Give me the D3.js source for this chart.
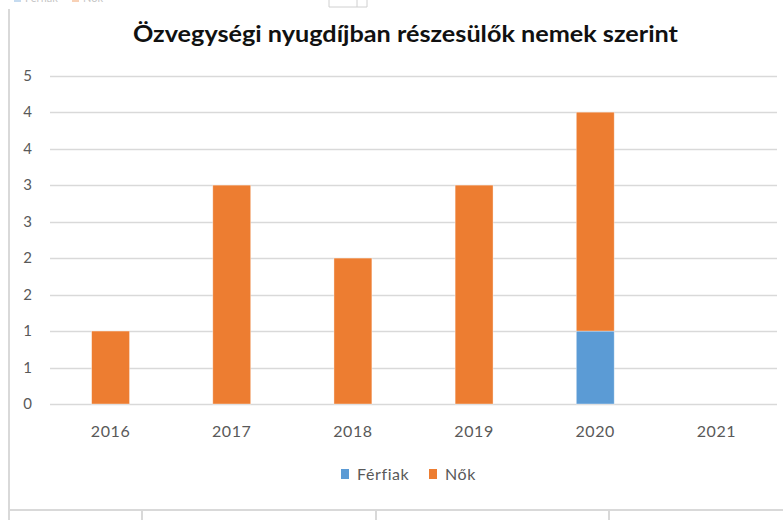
<!DOCTYPE html>
<html><head><meta charset="utf-8">
<script src="https://cdn.jsdelivr.net/npm/d3@7/dist/d3.min.js"></script>
<style>body{margin:0;background:#fff}svg{display:block}</style>
</head><body>
<svg id="c" width="783" height="520"></svg>
<script>
const categories = ["2016","2017","2018","2019","2020","2021"];
const ferfiak = [0,0,0,0,1,0];
const nok = [1,3,2,3,3,0];
const yTicks = [0,0.5,1,1.5,2,2.5,3,3.5,4,4.5];
const seriesNames = ["Férfiak","Nők"];
const colors = ["#5B9BD5","#ED7D31"];
const title = "Özvegységi nyugdíjban részesülők nemek szerint";

const svg = d3.select("#c");
const font = "Lato, 'Open Sans', sans-serif";

// frame lines
const g0 = svg.append("g").attr("stroke","#d9d9d9").attr("stroke-width",2);
g0.append("line").attr("x1",9).attr("x2",9).attr("y1",9).attr("y2",520);
g0.append("line").attr("x1",9).attr("x2",783).attr("y1",510).attr("y2",510);
[142,376,609].forEach(xx=>g0.append("line").attr("x1",xx).attr("x2",xx).attr("y1",510).attr("y2",520));

// faint cut-off legend and icon at top
const topG = svg.append("g").attr("opacity",0.35);
topG.append("rect").attr("x",14).attr("y",-6).attr("width",7).attr("height",8).attr("fill",colors[0]);
topG.append("text").attr("x",25).attr("y",2).attr("font-size",11).attr("fill","#595959").attr("font-family",font).text("Férfiak");
topG.append("rect").attr("x",72).attr("y",-6).attr("width",7).attr("height",8).attr("fill",colors[1]);
topG.append("text").attr("x",83).attr("y",2).attr("font-size",11).attr("fill","#595959").attr("font-family",font).text("Nők");
const ic = svg.append("g").attr("stroke","#d0d0d0").attr("stroke-width",1).attr("fill","none");
ic.append("path").attr("d","M329,0V7H367V0M357,0V7");

const x = d3.scaleBand().domain(categories).range([50,777]).paddingInner(0.687).paddingOuter(0.3435);
const y = d3.scaleLinear().domain([0,4.5]).range([404,75.7]);

// gridlines
svg.append("g").selectAll("line").data(yTicks).join("line")
  .attr("x1",50).attr("x2",777).attr("y1",d=>Math.round(y(d))+0.5).attr("y2",d=>Math.round(y(d))+0.5)
  .attr("stroke","#d9d9d9").attr("stroke-width",1.5);

// y axis labels (Excel-style integer format, half rounds up)
const yAxis = d3.axisLeft(y).tickValues(yTicks).tickSize(0).tickPadding(0)
  .tickFormat(d=>String(Math.round(d)));
const ya = svg.append("g").attr("transform","translate(32,0)").call(yAxis);
ya.select(".domain").remove();
ya.selectAll("text").attr("font-size",15).attr("fill","#595959").attr("font-family",font);

// x axis labels
const xAxis = d3.axisBottom(x).tickSize(0).tickPadding(0);
const xa = svg.append("g").attr("transform","translate(0,426)").call(xAxis);
xa.select(".domain").remove();
xa.selectAll("text").attr("font-size",16).attr("letter-spacing","0.6px").attr("fill","#595959").attr("font-family",font).attr("dy","0.71em");

// stacked bars
const rows = categories.map((c,i)=>({cat:c,"Férfiak":ferfiak[i],"Nők":nok[i]}));
const stack = d3.stack().keys(seriesNames)(rows);
svg.append("g").selectAll("g").data(stack).join("g")
  .attr("fill",(d,i)=>colors[i])
  .selectAll("rect").data(d=>d.filter(p=>p[1]-p[0]>0)).join("rect")
  .attr("x",d=>x(d.data.cat)).attr("width",x.bandwidth())
  .attr("y",d=>y(d[1])).attr("height",d=>y(d[0])-y(d[1]))
  .attr("stroke","#fff").attr("stroke-opacity",0.5).attr("stroke-width",0.75);

// title
svg.append("text").attr("x",405.5).attr("y",42).attr("text-anchor","middle")
  .attr("font-family",font).attr("font-weight","bold").attr("font-size",23).attr("fill","#111")
  .attr("textLength",545).attr("lengthAdjust","spacingAndGlyphs").text(title);

// legend
const lg = svg.append("g");
const legendX = [341,429];
seriesNames.forEach((n,i)=>{
  lg.append("rect").attr("x",legendX[i]).attr("y",469).attr("width",8).attr("height",10).attr("fill",colors[i]);
  lg.append("text").attr("x",legendX[i]+16).attr("y",480).attr("font-size",16).attr("letter-spacing","0.6px").attr("fill","#595959").attr("font-family",font).text(n);
});
</script>
</body></html>
